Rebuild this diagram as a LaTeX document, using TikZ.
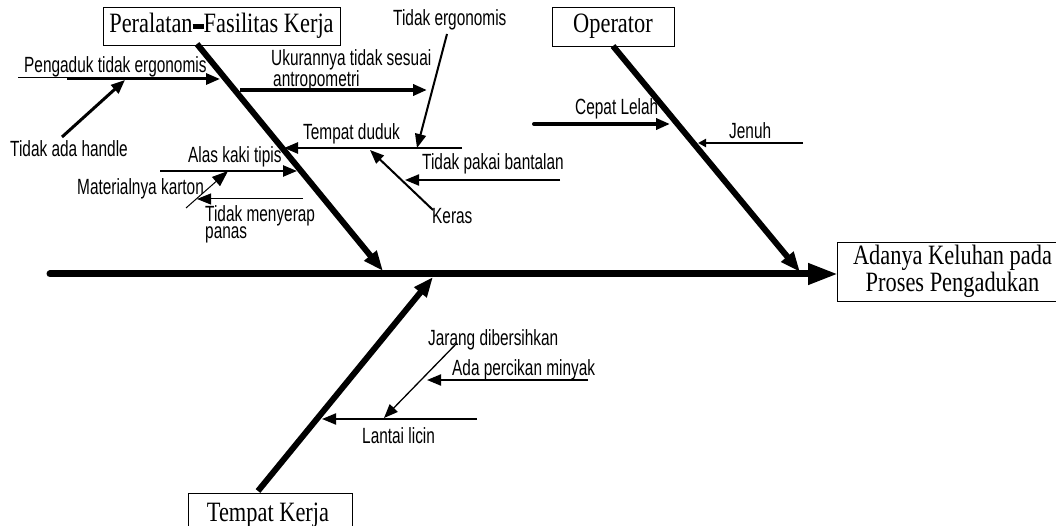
\documentclass[tikz,border=0pt]{standalone}
\usepackage{fontspec}
\usetikzlibrary{arrows.meta}
\newfontfamily\lblfont[FakeStretch=0.7]{Liberation Sans}
\newfontfamily\boxfont[FakeStretch=0.8]{Liberation Serif}
\begin{document}
\begin{tikzpicture}[x=1pt,y=-1pt,
  spine/.style={line width=7pt,line cap=round,-{Triangle[length=30pt,width=20pt]}},
  bone/.style={line width=6pt,-{Triangle[length=20pt,width=15pt]}},
  sub/.style={line width=#1,-{Triangle[length=14pt,width=11pt]}},
  sub/.default=2pt,
  thin/.style={line width=1pt,-{Triangle[length=14pt,width=11pt]}},
  lbl/.style={font=\lblfont\fontsize{22}{15}\selectfont,inner sep=0pt,anchor=base west,align=left},
  cat/.style={draw,line width=0.8pt,fill=white,font=\boxfont\fontsize{28}{25}\selectfont,inner sep=0pt}
]
\useasboundingbox (0,0) rectangle (1056,526);
\clip (0,0) rectangle (1056,526);

% category boxes and effect box
\node[cat,minimum width=237pt,minimum height=38pt] (peralatan) at (221.5,26)
  {Peralatan\raisebox{4pt}{\rule{11pt}{5pt}}Fasilitas Kerja};
\node[cat,minimum width=122pt,minimum height=39pt] (operator) at (613,26.5) {Operator};
\node[cat,minimum width=164pt,minimum height=44pt] (tempat) at (270,515) {\hspace*{-4pt}Tempat Kerja};
\node[cat,minimum width=221pt,minimum height=59pt,align=center] (effect) at (947.5,271.5)
  {\hspace*{10pt}Adanya Keluhan pada\\\hspace*{10pt}Proses Pengadukan};

% spine and main bones
\coordinate (spS) at (50,274);
\coordinate (spE) at (838,274);
\draw[spine] (spS) -- (spE);

\coordinate (b1S) at (197,44);  \coordinate (b1E) at (383,271);
\coordinate (b2S) at (613,46);  \coordinate (b2E) at (800,272);
\coordinate (b3S) at (258,491); \coordinate (b3E) at (433,277);

% labels (multi-line labels are placed by the baseline of their last line)
\node[lbl] (l1) at (24,73) {Pengaduk tidak ergonomis};
\node[lbl] (l2) at (10,157) {Tidak ada handle};
\node[lbl] (l3) at (271,87) {Ukurannya tidak sesuai\\\hspace*{2pt}antropometri};
\node[lbl] (l4) at (393,26) {Tidak ergonomis};
\node[lbl] (l5) at (303,140) {Tempat duduk};
\node[lbl] (l6) at (422,170) {Tidak pakai bantalan};
\node[lbl] (l7) at (432,224) {Keras};
\node[lbl] (l8) at (188,163) {Alas kaki tipis};
\node[lbl] (l9) at (77,195) {Materialnya karton};
\node[lbl] (l10) at (205,239) {Tidak menyerap\\panas};
\node[lbl] (l11) at (575,115) {Cepat Lelah};
\node[lbl] (l12) at (729,139) {Jenuh};
\node[lbl] (l13) at (428,345) {Jarang dibersihkan};
\node[lbl] (l14) at (452,375) {Ada percikan minyak};
\node[lbl] (l15) at (362,443) {Lantai licin};

% main bones
\draw[bone] (b1S) -- (b1E);
\draw[bone] (b2S) -- (b2E);
\draw[bone] (b3S) -- (b3E);

% Peralatan / Fasilitas Kerja causes
\coordinate (p0) at (18,79); \coordinate (p1) at (67,79); \coordinate (p2) at (220,79);
\draw[line width=0.8pt,double,double distance=1.4pt] (p0) -- (p1);
\draw[sub=3pt] (p1) -- (p2);
\coordinate (h1) at (62,137); \coordinate (h2) at (125,80);
\draw[sub=3pt] (h1) -- (h2);
\coordinate (u1) at (240,90); \coordinate (u2) at (427,90);
\draw[sub=3.5pt] (u1) -- (u2);
\coordinate (e1) at (447,34); \coordinate (e2) at (417,148);
\draw[sub=2pt] (e1) -- (e2);
\coordinate (t1) at (462,148); \coordinate (t2) at (284,148);
\draw[sub=2.5pt] (t1) -- (t2);
\coordinate (n1) at (560,180); \coordinate (n2) at (405,180);
\draw[sub=2pt] (n1) -- (n2);
\coordinate (k1) at (433,210); \coordinate (k2) at (370,150);
\draw[sub=2pt] (k1) -- (k2);
\coordinate (a1) at (160,171); \coordinate (a2) at (297,171);
\draw[sub=2.5pt] (a1) -- (a2);
\coordinate (m1) at (186,208); \coordinate (m2) at (228,171);
\draw[line width=1pt,-{Triangle[length=16pt,width=12pt]}] (m1) -- (m2);
\coordinate (s1) at (303,199); \coordinate (s2) at (197,199);
\draw[thin] (s1) -- (s2);

% Operator causes
\coordinate (c1) at (534,124); \coordinate (c2) at (670,124);
\draw[sub=4pt,line cap=round] (c1) -- (c2);
\coordinate (j1) at (803,143); \coordinate (j2) at (698,143);
\draw[line width=2pt,-{Triangle[length=8pt,width=8pt]}] (j1) -- (j2);

% Tempat Kerja causes
\coordinate (d1) at (457,343); \coordinate (d2) at (384,418);
\draw[line width=1.3pt,-{Triangle[length=14pt,width=11pt]}] (d1) -- (d2);
\coordinate (o1) at (588,380); \coordinate (o2) at (427,380);
\draw[sub=2pt] (o1) -- (o2);
\coordinate (i1) at (477,419); \coordinate (i2) at (322,419);
\draw[sub=2pt] (i1) -- (i2);
\end{tikzpicture}
\end{document}
